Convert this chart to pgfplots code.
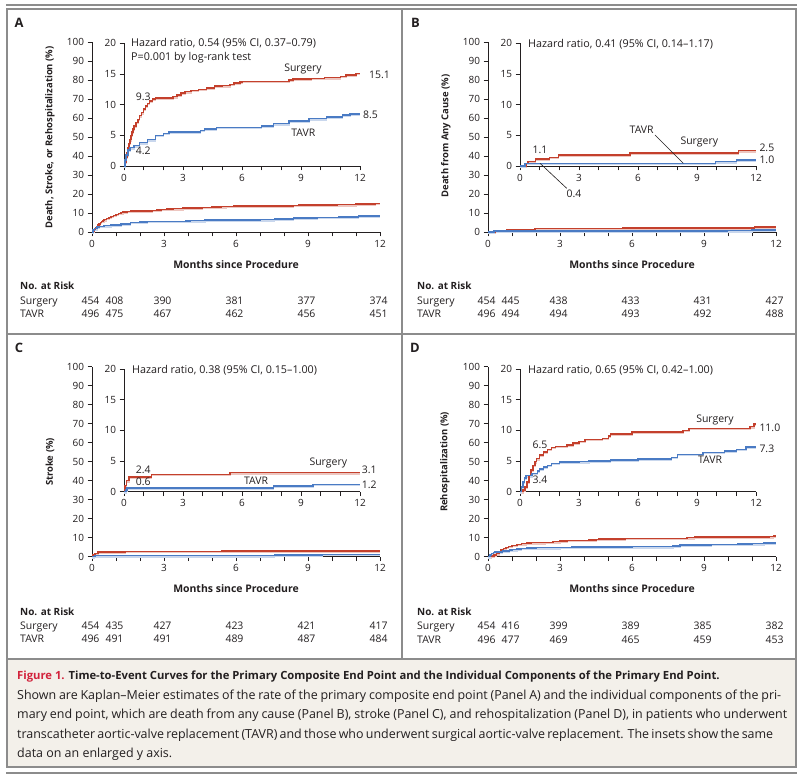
\documentclass[border=0pt]{standalone}
\usepackage{fontspec}
\setmainfont{Open Sans}
\usepackage{pgfplots}
\usepackage{pgfplotstable}
\pgfplotsset{compat=1.18}

\definecolor{surg}{HTML}{C4402C}
\definecolor{tavr}{HTML}{4A7BC4}
\definecolor{frame}{HTML}{8C8C8C}
\definecolor{capbg}{HTML}{F3F0EA}
\definecolor{capred}{HTML}{D2233C}
\definecolor{ink}{HTML}{231F20}
\newcommand\fs[1]{\fontsize{#1}{#1}\selectfont}

% Panel A: death, stroke or rehospitalization
\pgfplotstableread{
t v
0 0
0.05 0.6
0.1 1.4
0.15 2.2
0.2 3.0
0.25 3.7
0.3 4.3
0.35 5.0
0.4 5.5
0.45 6.0
0.5 6.5
0.6 7.1
0.7 7.6
0.8 8.2
0.9 8.7
1.0 9.3
1.1 9.8
1.2 10.2
1.3 10.6
1.45 10.9
1.6 11.1
2.5 11.3
2.7 11.6
2.9 11.9
3.1 12.1
3.4 12.3
3.8 12.5
4.2 12.7
4.6 13.0
5.0 13.1
5.4 13.3
5.6 13.5
5.9 13.7
6.0 13.8
8.4 14.0
8.6 14.2
9.5 14.3
10.2 14.4
11.0 14.6
11.3 14.8
11.8 15.1
12 15.1
}\surgA
\pgfplotstableread{
t v
0 0
0.05 1.0
0.1 1.8
0.2 2.6
0.3 3.0
0.5 3.3
0.8 3.8
1.2 4.3
1.6 5.0
2.0 5.3
2.3 5.5
3.9 5.8
4.1 6.0
4.7 6.3
7.0 6.5
7.6 6.9
8.4 7.3
9.4 7.7
10.3 8.0
11.1 8.3
11.5 8.5
12 8.5
}\tavrA
% Panel B: death from any cause
\pgfplotstableread{
t v
0 0
0.3 0.4
0.4 0.7
0.8 1.1
1.5 1.4
1.95 1.8
5.6 2.1
11.1 2.5
12 2.5
}\surgB
\pgfplotstableread{
t v
0 0
0.25 0.4
9.95 0.7
11.0 1.0
12 1.0
}\tavrB
% Panel C: stroke
\pgfplotstableread{
t v
0 0
0.05 1.0
0.12 1.8
0.25 2.4
1.4 2.8
5.4 3.1
12 3.1
}\surgC
\pgfplotstableread{
t v
0 0
0.1 0.3
0.15 0.6
7.6 0.9
9.6 1.2
12 1.2
}\tavrC
% Panel D: rehospitalization
\pgfplotstableread{
t v
0 0
0.15 0.3
0.25 0.8
0.35 1.6
0.45 2.6
0.55 3.5
0.65 4.3
0.75 4.9
0.85 5.4
1.0 6.0
1.2 6.5
1.4 6.9
1.6 7.2
1.8 7.4
2.4 7.6
2.7 7.9
3.0 8.2
3.3 8.5
4.2 8.7
4.5 9.1
4.6 9.4
5.7 9.7
8.3 10.0
8.6 10.3
11.7 10.6
11.9 11.0
12 11.0
}\surgD
\pgfplotstableread{
t v
0 0
0.08 0.8
0.15 1.6
0.22 2.2
0.3 2.6
0.6 3.0
0.9 3.4
1.0 3.7
1.2 4.0
1.4 4.3
1.6 4.6
2.0 4.8
3.0 4.9
3.5 5.0
4.6 5.2
6.0 5.3
7.7 5.6
8.0 6.1
9.3 6.4
10.4 6.6
11.0 6.9
11.5 7.3
12 7.3
}\tavrD

\pgfplotsset{
  km/.style={
    scale only axis, axis lines*=left, enlargelimits=false, clip=false,
    anchor=south west,
    axis line style={-, line width=0.8bp, ink},
    xmin=0, xmax=12, xtick={0,3,6,9,12},
    minor xtick={1,2,4,5,7,8,10,11},
    tick align=outside,
    major tick length=4.5bp, minor tick length=4.5bp,
    tick style={ink, line width=0.8bp},
    tick label style={font=\fs{10}, text=ink},
    /pgf/number format/assume math mode=true,
  },
  main/.style={km, width=288bp, height=190bp, ymin=0, ymax=100, ytick={0,10,...,100}},
  inset/.style={km, width=236bp, height=122.7bp, ymin=0, ymax=20, ytick={0,5,10,15,20}},
  surg/.style={const plot, color=surg, line width=1.5bp},
  tavr/.style={const plot, color=tavr, line width=1.5bp},
  surgsh/.style={const plot, color=surg!30, line width=1.5bp, yshift=-1.2bp},
  tavrsh/.style={const plot, color=tavr!30, line width=1.5bp, yshift=-1.2bp},
}
\newcommand\km[2]{%
  \addplot[surgsh] table {#1};
  \addplot[tavrsh] table {#2};
  \addplot[surg] table {#1};
  \addplot[tavr] table {#2};}

\begin{document}
\begin{tikzpicture}
\begin{scope}[x=1bp,y=1bp]
\useasboundingbox (0,0) rectangle (806,778);
\fill[white] (0,0) rectangle (806,778);
\draw[frame, line width=2bp] (6,773) -- (797,773);
\draw[frame, line width=1.3bp] (7,769) rectangle (796,119);
\draw[frame, line width=1.3bp] (7,444) -- (796,444);
\draw[frame, line width=1.3bp] (402,769) -- (402,119);
\filldraw[fill=capbg, draw=frame, line width=1.3bp] (7,119) rectangle (796,11);
\draw[frame, line width=2bp] (6,5) -- (797,5);
\end{scope}

% ---- A ----
\begin{axis}[main, at={(92bp,546bp)}]
\km{\surgA}{\tavrA}
\end{axis}
\begin{axis}[inset, at={(124bp,612bp)}]
\km{\surgA}{\tavrA}
\end{axis}
% ---- B ----
\begin{axis}[main, at={(488bp,546bp)}]
\km{\surgB}{\tavrB}
\end{axis}
\begin{axis}[inset, at={(520bp,612bp)}]
\km{\surgB}{\tavrB}
\end{axis}
% ---- C ----
\begin{axis}[main, at={(92bp,221.3bp)}]
\km{\surgC}{\tavrC}
\end{axis}
\begin{axis}[inset, at={(124bp,286.3bp)}]
\km{\surgC}{\tavrC}
\end{axis}
% ---- D ----
\begin{axis}[main, at={(488bp,221.3bp)}]
\km{\surgD}{\tavrD}
\end{axis}
\begin{axis}[inset, at={(520bp,286.3bp)}]
\km{\surgD}{\tavrD}
\end{axis}

\begin{scope}[x=1bp,y=1bp, every node/.style={inner sep=0, text=ink, font=\fs{10.5}}]
% panel letters
\node[font=\fs{13}\bfseries] at (19,755) {A};
\node[font=\fs{13}\bfseries] at (415.5,755) {B};
\node[font=\fs{13}\bfseries] at (19,430) {C};
\node[font=\fs{13}\bfseries] at (415,430) {D};
% y labels
\node[rotate=90, font=\fs{9.5}\bfseries] at (50,640.5) {Death, Stroke, or Rehospitalization (\%)};
\node[rotate=90, font=\fs{9.5}\bfseries] at (446,642) {Death from Any Cause (\%)};
\node[rotate=90, font=\fs{9.5}\bfseries] at (50,316) {Stroke (\%)};
\node[rotate=90, font=\fs{9.5}\bfseries] at (445,316) {Rehospitalization (\%)};
% x labels
\foreach \x/\y in {236/513, 632/513, 236/189, 632/189}
  \node[font=\fs{10.5}\bfseries] at (\x,\y) {Months since Procedure};
% hazard ratios
\begin{scope}[every node/.append style={font=\fs{10.8}}]
\node[anchor=base west] at (131,731.3) {Hazard ratio, 0.54 (95\% CI, 0.37--0.79)};
\node[anchor=base west] at (131,717.3) {P=0.001 by log-rank test};
\node[anchor=base west] at (528,730.7) {Hazard ratio, 0.41 (95\% CI, 0.14--1.17)};
\node[anchor=base west] at (132,404.7) {Hazard ratio, 0.38 (95\% CI, 0.15--1.00)};
\node[anchor=base west] at (528,404.7) {Hazard ratio, 0.65 (95\% CI, 0.42--1.00)};
\end{scope}
% curve labels A
\node at (303,709) {Surgery};
\node[anchor=west] at (369,703) {15.1};
\node[anchor=west] at (363,663.7) {8.5};
\node at (303.3,645.7) {TAVR};
\node at (143.3,681.3) {9.3};
\node at (143.3,627.3) {4.2};
% curve labels B
\node at (641.7,648) {TAVR};
\draw[ink, line width=0.6bp] (655,643) -- (683.3,614.7);
\node at (699.3,636.3) {Surgery};
\node[anchor=west] at (759.3,630.7) {2.5};
\node[anchor=west] at (759.3,618.7) {1.0};
\node at (540,628) {1.1};
\draw[ink, line width=0.6bp] (540,614.7) -- (566.7,589.7);
\node at (574,584) {0.4};
% curve labels C
\node at (143.3,308) {2.4};
\node at (143.3,296.3) {0.6};
\node at (328.3,314.7) {Surgery};
\node[anchor=west] at (361.7,308.7) {3.1};
\node at (256,297) {TAVR};
\node[anchor=west] at (361.7,293.7) {1.2};
% curve labels D
\node at (540,333.7) {6.5};
\node at (715,358) {Surgery};
\node[anchor=west] at (759.3,350.7) {11.0};
\node[anchor=west] at (759.3,329.7) {7.3};
\node at (710,318) {TAVR};
\node at (540,298.7) {3.4};
% numbers at risk
\node[anchor=base west, font=\fs{10}\bfseries] at (20,488.5) {No. at Risk};
\node[anchor=base west] at (20,473) {Surgery};
\node[anchor=base west] at (20,460.5) {TAVR};
\foreach \t/\s/\v in {0/454/496,1/408/475,3/390/467,6/381/462,9/377/456,12/374/451}{
  \node[anchor=base] at ({92+24*\t-1.5},473) {\s};
  \node[anchor=base] at ({92+24*\t-1.5},460.5) {\v};}
\node[anchor=base west, font=\fs{10}\bfseries] at (417,488) {No. at Risk};
\node[anchor=base west] at (417,473) {Surgery};
\node[anchor=base west] at (417,460.3) {TAVR};
\foreach \t/\s/\v in {0/454/496,1/445/494,3/438/494,6/433/493,9/431/492,12/427/488}{
  \node[anchor=base] at ({488+24*\t-1.5},473) {\s};
  \node[anchor=base] at ({488+24*\t-1.5},460.3) {\v};}
\node[anchor=base west, font=\fs{10}\bfseries] at (20,162) {No. at Risk};
\node[anchor=base west] at (20,148) {Surgery};
\node[anchor=base west] at (20,135.3) {TAVR};
\foreach \t/\s/\v in {0/454/496,1/435/491,3/427/491,6/423/489,9/421/487,12/417/484}{
  \node[anchor=base] at ({92+24*\t-1.5},148) {\s};
  \node[anchor=base] at ({92+24*\t-1.5},135.3) {\v};}
\node[anchor=base west, font=\fs{10}\bfseries] at (417,162) {No. at Risk};
\node[anchor=base west] at (417,148) {Surgery};
\node[anchor=base west] at (417,134.7) {TAVR};
\foreach \t/\s/\v in {0/454/496,1/416/477,3/399/469,6/389/465,9/385/459,12/382/453}{
  \node[anchor=base] at ({488+24*\t-1.5},148) {\s};
  \node[anchor=base] at ({488+24*\t-1.5},134.7) {\v};}
% caption
\node[anchor=base west, font=\fs{11.3}\bfseries] at (17,98) {\textcolor{capred}{Figure 1.} Time-to-Event Curves for the Primary Composite End Point and the Individual Components of the Primary End Point.};
\begin{scope}[every node/.append style={font=\fs{12.5}}]
\node[anchor=base west] at (17,78.5) {\makebox[764bp][s]{Shown are Kaplan--Meier estimates of the rate of the primary composite end point (Panel A) and the individual components of the pri-}};
\node[anchor=base west] at (17,59) {\makebox[770bp][s]{mary end point, which are death from any cause (Panel B), stroke (Panel C), and rehospitalization (Panel D), in patients who underwent}};
\node[anchor=base west] at (17,39.5) {\makebox[756bp][s]{transcatheter aortic-valve replacement (TAVR) and those who underwent surgical aortic-valve replacement. The insets show the same}};
\node[anchor=base west] at (17,20) {data on an enlarged y axis.};
\end{scope}
\end{scope}
\end{tikzpicture}
\end{document}
